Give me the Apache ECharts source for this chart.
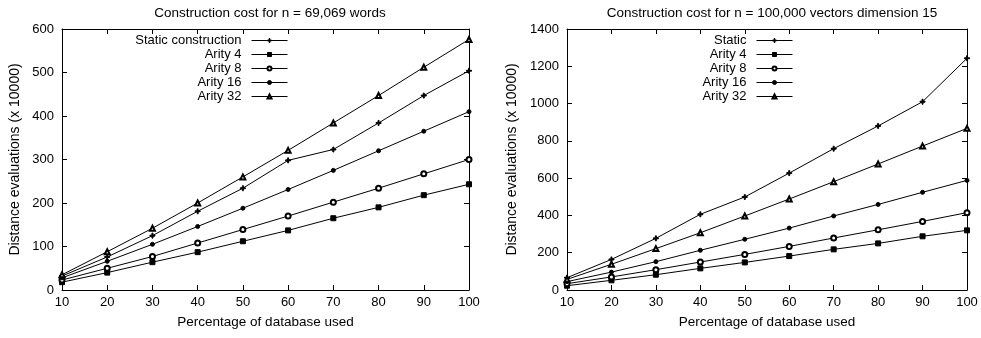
<!DOCTYPE html>
<html><head><meta charset="utf-8">
<script src="https://cdn.jsdelivr.net/npm/echarts@6/dist/echarts.min.js"></script>
<style>html,body{margin:0;padding:0;background:#fff}#c{width:981px;height:338px}</style>
</head><body><div id="c"></div>
<script>
var categories = [10, 20, 30, 40, 50, 60, 70, 80, 90, 100];
var leftTitle = 'Construction cost for n = 69,069 words';
var rightTitle = 'Construction cost for n = 100,000 vectors dimension 15';
var leftStatic  = [32, 76, 125, 181, 234, 298, 323, 384, 447, 504];
var leftA4      = [18, 40, 64, 87, 112, 137, 165, 190, 218, 243];
var leftA8      = [23, 50, 77, 108, 139, 170, 202, 234, 267, 300];
var leftA16     = [28, 66, 105, 146, 188, 231, 275, 320, 365, 410];
var leftA32     = [35, 88, 142, 200, 260, 321, 384, 447, 512, 576];
var rightStatic = [66, 164, 277, 406, 499, 627, 758, 880, 1010, 1243];
var rightA4     = [23, 52, 82, 116, 148, 182, 218, 250, 288, 320];
var rightA8     = [34, 70, 109, 150, 191, 234, 279, 323, 368, 415];
var rightA16    = [45, 96, 152, 213, 272, 332, 397, 459, 524, 588];
var rightA32    = [57, 138, 222, 307, 397, 488, 581, 676, 772, 867];
var leftNames  = ['Static construction', 'Arity 4', 'Arity 8', 'Arity 16', 'Arity 32'];
var rightNames = ['Static', 'Arity 4', 'Arity 8', 'Arity 16', 'Arity 32'];
var xName = 'Percentage of database used';
var yName = 'Distance evaluations (x 10000)';

var FONT = '"Liberation Sans", Arial, sans-serif';
var plus = 'path://M4,0H6V4H10V6H6V10H4V6H0V4H4Z';
var symbols = [plus, 'rect', 'emptyCircle', 'circle', 'emptyTriangle'];
var sizes = [5, 5, 5, 4, 5];

function pairs(vals){ return vals.map(function(v,i){ return [categories[i], v]; }); }

function mkX(gi, pos, show){
  return {type:'value', gridIndex:gi, position:pos, min:10, max:100, interval:10,
    name: show ? xName : '', nameLocation:'middle', nameGap:25,
    nameTextStyle:{fontFamily:FONT, fontSize:13.5, color:'#000'},
    axisLine:{show:true, onZero:false, lineStyle:{color:'#000', width:1}},
    axisTick:{show:true, inside:true, length:5, lineStyle:{color:'#000'}},
    axisLabel:{show:show, fontFamily:FONT, fontSize:13, color:'#000', margin:6},
    splitLine:{show:false}};
}
function mkY(gi, pos, show, max, interval, gap){
  return {type:'value', gridIndex:gi, position:pos, min:0, max:max, interval:interval,
    name: show ? yName : '', nameLocation:'middle', nameGap:gap, nameRotate:90,
    nameTextStyle:{fontFamily:FONT, fontSize:14, color:'#000'},
    axisLine:{show:true, onZero:false, lineStyle:{color:'#000', width:1}},
    axisTick:{show:true, inside:true, length:5, lineStyle:{color:'#000'}},
    axisLabel:{show:show, fontFamily:FONT, fontSize:13, color:'#000', margin:8,
      formatter:function(v){ return String(v); }},
    splitLine:{show:false}};
}
function mkSeries(names, datas, xi, yi){
  return datas.map(function(d, k){
    return {type:'line', name:names[k], xAxisIndex:xi, yAxisIndex:yi, data:pairs(d),
      symbol:symbols[k], symbolSize:sizes[k], animation:false,
      lineStyle:{color:'#000', width:1},
      itemStyle:{color:'#000', borderColor:'#000', borderWidth:1}};
  });
}
function mkLegend(names, right, top){
  return {orient:'vertical', right:right, top:top, align:'right', data:names,
    itemWidth:36, itemHeight:5, itemGap:1, padding:0,
    lineStyle:{width:1, color:'#000'},
    itemStyle:{borderWidth:1, borderColor:'#000'},
    textStyle:{fontFamily:FONT, fontSize:13, lineHeight:13, color:'#000', padding:[0,5,0,0]}};
}

var option = {
  backgroundColor:'#fff',
  title:[
    {text:leftTitle, left:265, top:1, textAlign:'center', textStyle:{fontFamily:FONT, fontSize:13.5, fontWeight:'normal', color:'#000'}},
    {text:rightTitle, left:767, top:1, textAlign:'center', textStyle:{fontFamily:FONT, fontSize:13.5, fontWeight:'normal', color:'#000'}}
  ],
  legend:[mkLegend(leftNames, 693, 34), mkLegend(rightNames, 188, 34)],
  grid:[
    {left:62, right:512, top:29, bottom:48, outerBoundsMode:'none'},
    {left:567, right:14, top:29, bottom:48, outerBoundsMode:'none'}
  ],
  xAxis:[mkX(0,'bottom',true), mkX(0,'top',false), mkX(1,'bottom',true), mkX(1,'top',false)],
  yAxis:[mkY(0,'left',true,600,100,40), mkY(0,'right',false,600,100,0),
         mkY(1,'left',true,1400,200,48), mkY(1,'right',false,1400,200,0)],
  series:[].concat(
    mkSeries(leftNames, [leftStatic, leftA4, leftA8, leftA16, leftA32], 0, 0),
    mkSeries(rightNames, [rightStatic, rightA4, rightA8, rightA16, rightA32], 2, 2)
  )
};
var chart = echarts.init(document.getElementById('c'), null, {renderer:'canvas'});
chart.setOption(option);
</script></body></html>
